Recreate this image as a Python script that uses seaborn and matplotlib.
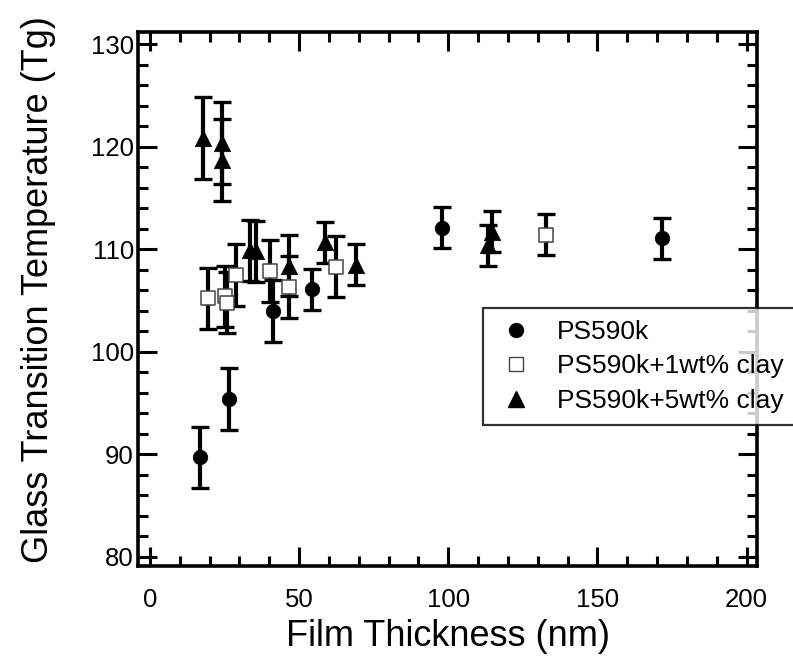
import numpy as np
import pandas as pd
import matplotlib
matplotlib.use("Agg")
import matplotlib.pyplot as plt
from matplotlib.ticker import MultipleLocator
from matplotlib.lines import Line2D
import seaborn as sns

# Film thickness (nm), Tg and its uncertainty for each sample series
ps_x = [16.8, 26.5, 41.2, 54.2, 98.0, 171.7]
ps_y = [89.7, 95.4, 104.0, 106.1, 112.1, 111.1]
ps_err = [3.0, 3.0, 3.0, 2.0, 2.0, 2.0]

clay1_x = [19.3, 25.3, 26.0, 28.8, 40.2, 46.6, 62.3, 132.7]
clay1_y = [105.2, 105.4, 104.8, 107.5, 107.9, 106.3, 108.3, 111.4]
clay1_err = [3.0, 3.0, 3.0, 3.0, 3.0, 3.0, 3.0, 2.0]

clay5_x = [17.9, 24.2, 24.2, 33.5, 35.6, 46.7, 58.6, 69.2, 113.3, 114.8]
clay5_y = [120.9, 120.4, 118.7, 109.9, 109.8, 108.4, 110.7, 108.5, 110.4, 111.7]
clay5_err = [4.0, 4.0, 4.0, 3.0, 3.0, 3.0, 2.0, 2.0, 2.0, 2.0]

labels = ["PS590k", "PS590k+1wt% clay", "PS590k+5wt% clay"]

sns.set_theme(style="ticks")
plt.rcParams["font.family"] = ["Liberation Sans", "DejaVu Sans"]
for key in ("text.color", "axes.labelcolor", "xtick.color", "ytick.color", "axes.edgecolor"):
    plt.rcParams[key] = "black"

df = pd.concat([
    pd.DataFrame({"x": ps_x, "y": ps_y, "err": ps_err, "sample": labels[0]}),
    pd.DataFrame({"x": clay1_x, "y": clay1_y, "err": clay1_err, "sample": labels[1]}),
    pd.DataFrame({"x": clay5_x, "y": clay5_y, "err": clay5_err, "sample": labels[2]}),
], ignore_index=True)

fig = plt.figure(figsize=(7.93, 6.64), dpi=100)
ax = fig.add_axes([138 / 793, 1 - 566 / 664, (757 - 138) / 793, (566 - 32) / 664])

# error bars first, markers on top
ax.errorbar(df["x"], df["y"], yerr=df["err"], fmt="none", ecolor="black",
            elinewidth=3.0, capsize=6.3, capthick=2.4, zorder=2)

styles = {
    labels[0]: dict(marker="o", s=110, color="black", edgecolor="black", linewidth=0.5),
    labels[1]: dict(marker="s", s=110, color="white", edgecolor="#444444", linewidth=1.1),
    labels[2]: dict(marker="^", s=140, color="black", edgecolor="black", linewidth=0.5),
}
for name, kw in styles.items():
    sub = df[df["sample"] == name]
    sns.scatterplot(data=sub, x="x", y="y", ax=ax, legend=False, zorder=3, **kw)

ax.set_xlim(-4, 203.5)
ax.set_ylim(79.1, 131.2)
ax.xaxis.set_major_locator(MultipleLocator(50))
ax.xaxis.set_minor_locator(MultipleLocator(10))
ax.yaxis.set_major_locator(MultipleLocator(10))
ax.yaxis.set_minor_locator(MultipleLocator(2))

ax.tick_params(which="both", direction="in", top=True, right=True, colors="black",
               width=2.2, labelsize=18.5)
ax.tick_params(axis="x", which="major", pad=16)
ax.tick_params(axis="y", which="major", pad=3)
ax.tick_params(which="major", length=13.5)
ax.tick_params(which="minor", length=7)
for sp in ax.spines.values():
    sp.set_linewidth(2.6)
    sp.set_color("black")

ax.set_xlabel("Film Thickness (nm)", fontsize=26, labelpad=5)
ax.set_ylabel("Glass Transition Temperature (Tg)", fontsize=26)
ax.yaxis.set_label_coords((56 - 138) / 619, (566 - 290) / 534)

handles = [
    Line2D([], [], linestyle="none", marker="o", markersize=10, color="black"),
    Line2D([], [], linestyle="none", marker="s", markersize=10, markerfacecolor="white",
           markeredgecolor="#444444", markeredgewidth=1.0),
    Line2D([], [], linestyle="none", marker="^", markersize=11, color="black"),
]
leg = fig.legend(handles, labels, loc="upper left", bbox_to_anchor=(483 / 793, 1 - 308 / 664),
                 fontsize=19, frameon=True, fancybox=False, shadow=False,
                 handletextpad=0.75, labelspacing=0.4, borderpad=0.45, handlelength=1.6,
                 borderaxespad=0)
leg.get_frame().set_edgecolor("black")
leg.get_frame().set_linewidth(1.6)
leg.set_zorder(5)

fig.savefig("out.png", dpi=100, facecolor="white")
